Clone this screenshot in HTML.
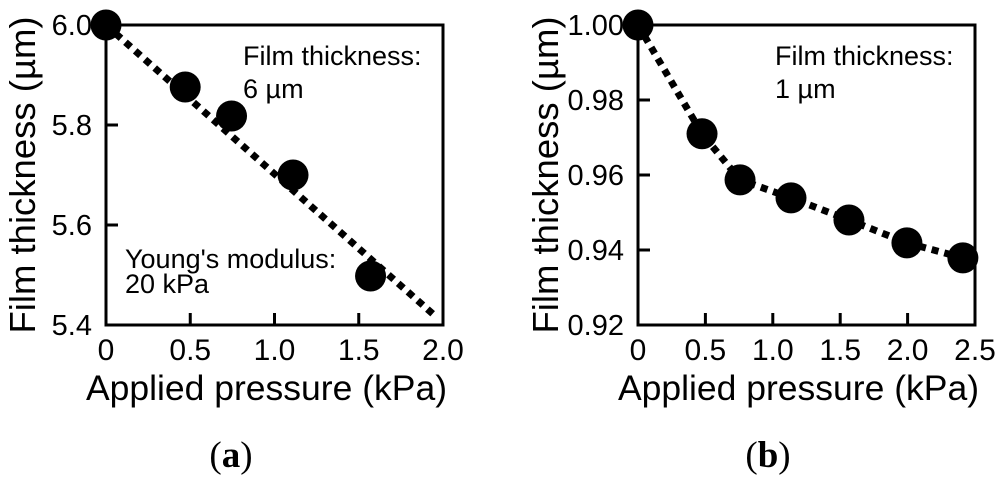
<!DOCTYPE html>
<html><head><meta charset="utf-8"><style>
html,body{margin:0;padding:0;background:#fff}
svg{display:block;font-family:"Liberation Sans",sans-serif}
</style></head><body>
<svg id="fig" width="1000" height="483" viewBox="0 0 1000 483"></svg>
<script>
const aX = [0, 0.47, 0.745, 1.11, 1.57];
const aY = [6.0, 5.876, 5.818, 5.70, 5.498];
const aFitX = [0, 1.94];
const aFitY = [6.0, 5.422];
const aXTicks = [0, 0.5, 1.0, 1.5, 2.0];
const aXTickLabels = ["0", "0.5", "1.0", "1.5", "2.0"];
const aYTicks = [5.4, 5.6, 5.8, 6.0];
const aYTickLabels = ["5.4", "5.6", "5.8", "6.0"];
const bX = [0, 0.475, 0.757, 1.135, 1.565, 1.995, 2.41];
const bY = [1.0, 0.971, 0.9587, 0.9539, 0.948, 0.9419, 0.9379];
const bXTicks = [0, 0.5, 1.0, 1.5, 2.0, 2.5];
const bXTickLabels = ["0", "0.5", "1.0", "1.5", "2.0", "2.5"];
const bYTicks = [0.92, 0.94, 0.96, 0.98, 1.0];
const bYTickLabels = ["0.92", "0.94", "0.96", "0.98", "1.00"];

const NS = "http://www.w3.org/2000/svg";
const svg = document.getElementById("fig");
function mk(tag, attrs, parent){const e=document.createElementNS(NS,tag);for(const k in attrs)e.setAttribute(k,attrs[k]);(parent||svg).appendChild(e);return e;}

function panel(id, box, xr, yr, lx, ly, fx, fy, xt, xtl, yt, ytl, yTitleX, labelX, label, annots){
  const g = mk("g", {});
  
  
  const sx = v => box.x0 + (v - xr[0]) / (xr[1] - xr[0]) * (box.x1 - box.x0);
  const sy = v => box.y1 - (v - yr[0]) / (yr[1] - yr[0]) * (box.y1 - box.y0);
  const frame = mk("rect", {x:box.x0, y:box.y0, width:box.x1-box.x0, height:box.y1-box.y0, fill:"none", stroke:"#000", "stroke-width":3}, g);
  
  
  xt.forEach((v,i)=>{
    const t = mk("line", {x1:sx(v), x2:sx(v), y1:box.y1, y2:box.y1-12, stroke:"#000","stroke-width":3}, g);
    
    
    const l = mk("text", {x:sx(v), y:360, "text-anchor":"middle", "font-size":30}, g);
    l.textContent = xtl[i];
    
    
  });
  yt.forEach((v,i)=>{
    const t = mk("line", {x1:box.x0, x2:box.x0+12, y1:sy(v), y2:sy(v), stroke:"#000","stroke-width":3}, g);
    
    
    const l = mk("text", {x:box.x0-14, y:sy(v)+10, "text-anchor":"end", "font-size":29}, g);
    l.textContent = ytl[i];
    
    
  });
  const pts = lx.map((v,i)=>sx(v)+","+sy(ly[i])).join(" ");
  const pl = mk("polyline", {points:pts, fill:"none", stroke:"#000", "stroke-width":7, "stroke-dasharray":"7 6"}, g);
  
  
  fx.forEach((v,i)=>{
    const c = mk("circle", {cx:sx(v), cy:sy(fy[i]), r:15.5, fill:"#000"}, g);
    
    
  });
  const xtitle = mk("text", {x:(box.x0+box.x1)/2-8, y:400, "text-anchor":"middle", "font-size":35.5}, g);
  xtitle.textContent = "Applied pressure (kPa)";
  
  
  const ytitle = mk("text", {x:0, y:0, "text-anchor":"middle", "font-size":36.5, transform:`translate(${yTitleX},${(box.y0+box.y1)/2}) rotate(-90)`}, g);
  ytitle.textContent = "Film thickness (µm)";
  
  
  annots.forEach(a=>{
    const t = mk("text", {x:a[0], y:a[1], "font-size":27}, g);
    t.textContent = a[2];
    
    
  });
  const pl2 = mk("text", {x:labelX, y:467, "text-anchor":"middle", "font-size":37, "font-family":"Liberation Serif, serif"}, g);
  pl2.innerHTML = '(<tspan font-weight="bold">'+label+'</tspan>)';
  
  
}

panel("panel-a", {x0:106,x1:443,y0:25,y1:325}, [0,2.0], [5.4,6.0],
  aFitX, aFitY, aX, aY, aXTicks, aXTickLabels, aYTicks, aYTickLabels, 35, 231, "a",
  [[243,65,"Film thickness:"],[243,98,"6 µm"],[125,268,"Young's modulus:"],[125,293,"20 kPa"]]);
panel("panel-b", {x0:638,x1:975,y0:25,y1:325}, [0,2.5], [0.92,1.0],
  bX, bY, bX, bY, bXTicks, bXTickLabels, bYTicks, bYTickLabels, 558, 768, "b",
  [[775,65,"Film thickness:"],[775,98,"1 µm"]]);
</script>
</body></html>
